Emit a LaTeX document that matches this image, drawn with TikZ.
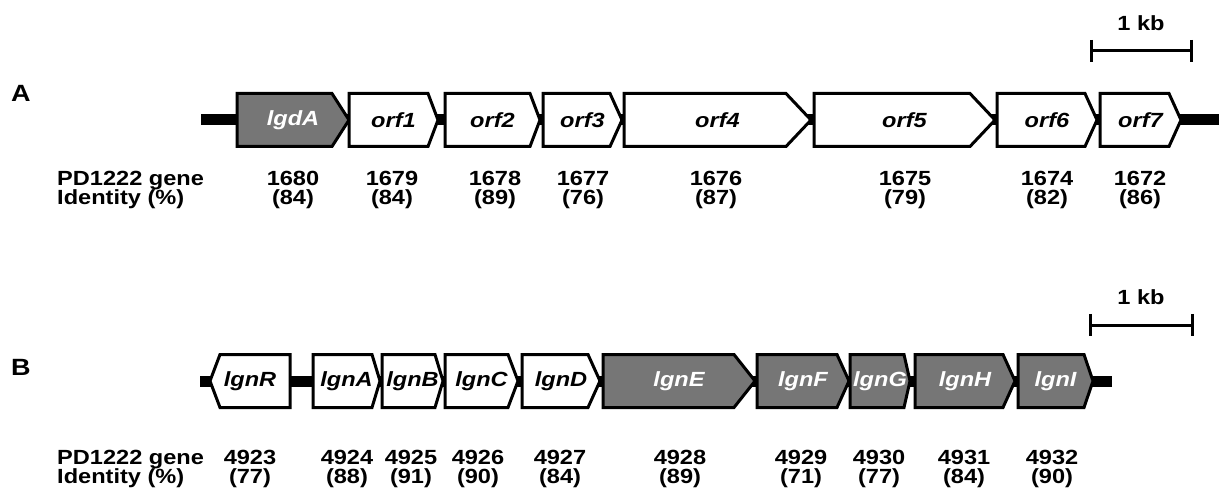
\documentclass[tikz,border=0pt]{standalone}
\usepackage{fontspec}
\setmainfont{Liberation Sans}[FakeStretch=1.15]
\definecolor{genegray}{RGB}{118,118,118}
\tikzset{
  gbox/.style={draw=black, line width=3pt, line join=miter, fill=white},
  gboxg/.style={gbox, fill=genegray},
  glab/.style={font=\fontsize{20.5}{24}\selectfont\bfseries\itshape, text=black, inner sep=0pt},
  glabw/.style={glab, text=white},
  backbone/.style={line width=11pt},
  txt/.style={font=\fontsize{20.5}{24}\selectfont\bfseries, inner sep=0pt, anchor=base},
  panel/.style={font=\fontsize{23.5}{28}\selectfont\bfseries, inner sep=0pt},
  sbar/.style={line width=3pt},
}
% forward gene: name, x0, xhead, xtip, ycenter, boxstyle, labelstyle, label
\newcommand{\genefwd}[8]{%
  \draw[#6] (#2,#5-26.5) -- (#3,#5-26.5) -- (#4,#5) -- (#3,#5+26.5) -- (#2,#5+26.5) -- cycle;
  \node[#7] (#1) at ({(#2+#4)/2},#5) {#8};
}
% reverse gene: name, xtip, xhead, xright, ycenter, boxstyle, labelstyle, label
\newcommand{\generev}[8]{%
  \draw[#6] (#4,#5-26.5) -- (#3,#5-26.5) -- (#2,#5) -- (#3,#5+26.5) -- (#4,#5+26.5) -- cycle;
  \node[#7] (#1) at ({(#2+#4)/2},#5) {#8};
}
\begin{document}
\begin{tikzpicture}[x=1pt,y=-1pt]
\useasboundingbox (0,0) rectangle (1219,497);
\fill[white] (0,0) rectangle (1219,497);

% ---------- Panel A ----------
\node[panel] (labA) at (21,93) {A};
\coordinate (bbA1) at (201,120);
\coordinate (bbA2) at (1219,120);
\draw[backbone] (bbA1) -- (bbA2);
\genefwd{lgdA}{237}{332}{349}{120}{gboxg}{glabw}{lgdA}
\genefwd{orf1}{349}{428}{438}{120}{gbox}{glab}{orf1}
\genefwd{orf2}{445}{530}{540}{120}{gbox}{glab}{orf2}
\genefwd{orf3}{543}{610}{622}{120}{gbox}{glab}{orf3}
\genefwd{orf4}{624}{786}{811}{120}{gbox}{glab}{orf4}
\genefwd{orf5}{814}{970}{995}{120}{gbox}{glab}{orf5}
\genefwd{orf6}{997}{1085}{1097}{120}{gbox}{glab}{orf6}
\genefwd{orf7}{1100}{1169}{1181}{120}{gbox}{glab}{orf7}

% scale bar A
\coordinate (sbA1) at (1091,51);
\coordinate (sbA2) at (1191,51);
\draw[sbar] (sbA1) -- (sbA2);
\draw[sbar] ([yshift=11pt]sbA1) -- ([yshift=-11pt]sbA1);
\draw[sbar] ([yshift=11pt]sbA2) -- ([yshift=-11pt]sbA2);
\node[txt] (kbA) at (1141,31) {1 kb};

% rows A
\node[txt, anchor=base west] (pdA) at (57,186) {PD1222 gene};
\node[txt, anchor=base west] (idA) at (57,205) {Identity (\%)};
\foreach \n/\x/\g/\p in {a/293/1680/84, b/392/1679/84, c/495/1678/89, d/583/1677/76,
                         e/716/1676/87, f/905/1675/79, g/1047/1674/82, h/1140/1672/86}{
  \node[txt] (gA\n) at (\x,186) {\g};
  \node[txt] (iA\n) at (\x,205) {(\p)};
}

% ---------- Panel B ----------
\node[panel] (labB) at (21,367) {B};
\coordinate (bbB1) at (200,381);
\coordinate (bbB2) at (1112,381);
\draw[backbone] (bbB1) -- (bbB2);
\generev{lgnR}{210}{220}{290}{381}{gbox}{glab}{lgnR}
\genefwd{lgnA}{313}{372}{380}{381}{gbox}{glab}{lgnA}
\genefwd{lgnB}{382}{435}{443}{381}{gbox}{glab}{lgnB}
\genefwd{lgnC}{445}{508}{518}{381}{gbox}{glab}{lgnC}
\genefwd{lgnD}{522}{588}{600}{381}{gbox}{glab}{lgnD}
\genefwd{lgnE}{603}{734}{755}{381}{gboxg}{glabw}{lgnE}
\genefwd{lgnF}{757}{837}{849}{381}{gboxg}{glabw}{lgnF}
\genefwd{lgnG}{850}{904}{910}{381}{gboxg}{glabw}{lgnG}
\genefwd{lgnH}{915}{1003}{1015}{381}{gboxg}{glabw}{lgnH}
\genefwd{lgnI}{1018}{1084}{1093}{381}{gboxg}{glabw}{lgnI}

% scale bar B
\coordinate (sbB1) at (1090,325);
\coordinate (sbB2) at (1192,325);
\draw[sbar] (sbB1) -- (sbB2);
\draw[sbar] ([yshift=11pt]sbB1) -- ([yshift=-11pt]sbB1);
\draw[sbar] ([yshift=11pt]sbB2) -- ([yshift=-11pt]sbB2);
\node[txt] (kbB) at (1141,305) {1 kb};

% rows B
\node[txt, anchor=base west] (pdB) at (57,464) {PD1222 gene};
\node[txt, anchor=base west] (idB) at (57,483) {Identity (\%)};
\foreach \n/\x/\g/\p in {a/250/4923/77, b/347/4924/88, c/411/4925/91, d/478/4926/90,
                         e/560/4927/84, f/680/4928/89, g/801/4929/71, h/879/4930/77,
                         i/964/4931/84, j/1052/4932/90}{
  \node[txt] (gB\n) at (\x,464) {\g};
  \node[txt] (iB\n) at (\x,483) {(\p)};
}
\end{tikzpicture}
\end{document}
